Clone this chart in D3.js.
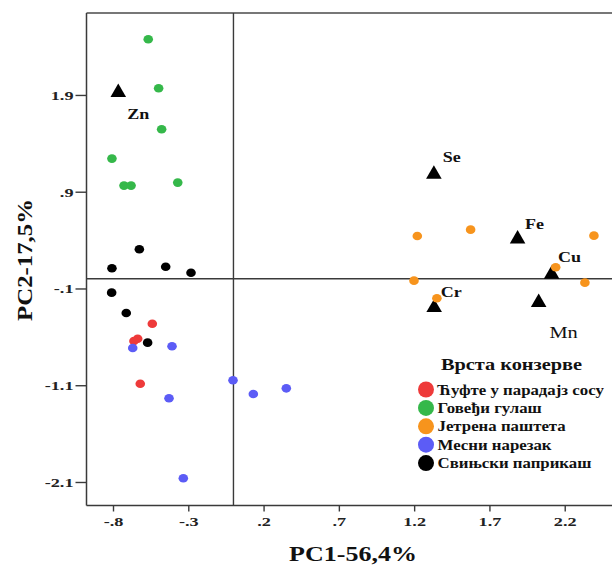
<!DOCTYPE html>
<html><head><meta charset="utf-8">
<script src="https://cdn.jsdelivr.net/npm/d3@7"></script>
<style>
body{margin:0;background:#fff;}
svg{display:block;font-family:"Liberation Serif","DejaVu Serif",serif;}
</style></head>
<body><svg id="c" width="612" height="566"></svg>
<script>
// ---- data ----
const groups = ["Ћуфте у парадајз сосу","Говеђи гулаш","Јетрена паштета","Месни нарезак","Свињски паприкаш"];
const groupColors = ["#ee3a3a","#35b84a","#f7941d","#5c5cf6","#000000"];
const redPC1 = [-0.539,-0.636,-0.661,-0.619];
const redPC2 = [-0.464,-0.619,-0.643,-1.084];
const greenPC1 = [-0.566,-0.497,-0.477,-0.807,-0.727,-0.680,-0.370];
const greenPC2 = [2.476,1.969,1.545,1.242,0.963,0.963,0.994];
const orangePC1 = [1.221,1.575,2.394,2.140,1.199,2.334,1.351];
const orangePC2 = [0.443,0.508,0.446,0.119,-0.019,-0.040,-0.201];
const bluePC1 = [-0.669,-0.408,-0.003,0.132,0.351,-0.428,-0.333];
const bluePC2 = [-0.715,-0.697,-1.049,-1.190,-1.132,-1.235,-2.062];
const blackPC1 = [-0.625,-0.807,-0.450,-0.282,-0.809,-0.712,-0.570];
const blackPC2 = [0.305,0.109,0.125,0.063,-0.143,-0.353,-0.660];
const elements = ["Zn","Se","Fe","Cu","Cr","Mn"];
const elemPC1 = [-0.765,1.331,1.887,2.113,1.333,2.027];
const elemPC2 = [1.925,1.080,0.412,0.046,-0.298,-0.246];
const xTicks = [-0.8,-0.3,0.2,0.7,1.2,1.7,2.2];
const xTickLabels = ["-.8","-.3",".2",".7","1.2","1.7","2.2"];
const yTicks = [1.9,0.9,-0.1,-1.1,-2.1];
const yTickLabels = ["1.9",".9","-.1","-1.1","-2.1"];
const xTitle = "PC1-56,4%";
const yTitle = "PC2-17,5%";
const legendTitle = "Врста конзерве";

// ---- helpers ----
function stretch(sel, f){
  sel.each(function(){
    const w = this.getComputedTextLength();
    d3.select(this).attr("textLength", w*f).attr("lengthAdjust","spacingAndGlyphs");
  });
}

// ---- layout ----
const svg = d3.select("#c");
const L = 86.5, R = 612, T = 13, B = 505.5;
const x = d3.scaleLinear().domain([-0.976, 2.514]).range([L, R]);
const y = d3.scaleLinear().domain([-2.343, 2.747]).range([B, T]);
const lineCol = "#3a3a3a";

// frame
svg.append("line").attr("x1",L).attr("x2",R).attr("y1",T).attr("y2",T).attr("stroke","#777").attr("stroke-width",1.8);

// zero lines
svg.append("line").attr("x1",x(0)).attr("x2",x(0)).attr("y1",T).attr("y2",B).attr("stroke",lineCol).attr("stroke-width",1.4);
svg.append("line").attr("x1",L).attr("x2",R).attr("y1",y(0)).attr("y2",y(0)).attr("stroke",lineCol).attr("stroke-width",1.4);

// axes
const xAxis = d3.axisBottom(x).tickValues(xTicks).tickFormat((d,i)=>xTickLabels[i]).tickSizeOuter(0).tickSize(6).tickPadding(5);
const gx = svg.append("g").attr("transform",`translate(0,${B})`).call(xAxis);
const yAxis = d3.axisLeft(y).tickValues(yTicks).tickFormat((d,i)=>yTickLabels[i]).tickSizeOuter(0).tickSize(11).tickPadding(2);
const gy = svg.append("g").attr("transform",`translate(${L},0)`).call(yAxis);
[gx,gy].forEach(g=>{
  g.select(".domain").attr("stroke",lineCol).attr("stroke-width",1.5);
  g.selectAll(".tick line").attr("stroke",lineCol).attr("stroke-width",1.4);
  g.selectAll(".tick text").attr("font-family","Liberation Serif, serif").attr("font-weight","bold").attr("font-size",13.5).attr("fill","#222");
  stretch(g.selectAll(".tick text"), 1.35);
});
gx.select(".domain").attr("d",`M${L},0H${R}`);
gy.select(".domain").attr("d",`M0,${T}V${B}`);

// axis titles
const xt = svg.append("text").attr("x",353).attr("y",561).attr("text-anchor","middle")
  .attr("font-weight","bold").attr("font-size",20).attr("fill","#111").text(xTitle);
stretch(xt, 1.3);
const yt = svg.append("text").attr("transform","translate(32,260) rotate(-90)").attr("text-anchor","middle")
  .attr("font-weight","bold").attr("font-size",21).attr("fill","#111").text(yTitle);
stretch(yt, 1.18);

// element triangles
const tri = d3.symbol().type(d3.symbolTriangle).size(105);
const elemData = elements.map((e,i)=>({e, a:elemPC1[i], b:elemPC2[i]}));
svg.append("g").selectAll("path").data(elemData).join("path")
  .attr("d",tri).attr("transform",d=>`translate(${x(d.a)},${y(d.b)})`).attr("fill","#000");
const labelOff = {Zn:[20,26,true,15],Se:[18,-12,true,15],Fe:[17,-10,true,15],Cu:[18,-12,true,15],Cr:[17,-11,true,15],Mn:[25,35,false,17]};
const el = svg.append("g").selectAll("text").data(elemData).join("text")
  .attr("x",d=>x(d.a)+labelOff[d.e][0]).attr("y",d=>y(d.b)+labelOff[d.e][1])
  .attr("text-anchor","middle").attr("font-size",d=>labelOff[d.e][3])
  .attr("font-weight",d=>labelOff[d.e][2]?"bold":"normal").attr("fill","#111").text(d=>d.e);
stretch(el, 1.2);

// points
const series = [[redPC1,redPC2],[greenPC1,greenPC2],[orangePC1,orangePC2],[bluePC1,bluePC2],[blackPC1,blackPC2]];
const pts = [];
series.forEach((s,gi)=>s[0].forEach((v,i)=>pts.push({g:gi,a:v,b:s[1][i]})));
svg.append("g").selectAll("ellipse").data(pts).join("ellipse")
  .attr("cx",d=>x(d.a)).attr("cy",d=>y(d.b)).attr("rx",4.8).attr("ry",4.3)
  .attr("fill",d=>groupColors[d.g]);

// legend
const lg = svg.append("g");
const lt = lg.append("text").attr("x",511.5).attr("y",370).attr("text-anchor","middle")
  .attr("font-weight","bold").attr("font-size",16).attr("fill","#111").text(legendTitle);
stretch(lt, 1.27);
groups.forEach((gname,i)=>{
  const cy = 389.5 + i*18.4;
  lg.append("circle").attr("cx",426).attr("cy",cy).attr("r",8).attr("fill",groupColors[i]);
  const t = lg.append("text").attr("x",437.5).attr("y",cy+5).attr("font-weight","bold").attr("font-size",14).attr("fill","#111").text(gname);
  stretch(t, 1.2);
});
</script>
</body></html>
